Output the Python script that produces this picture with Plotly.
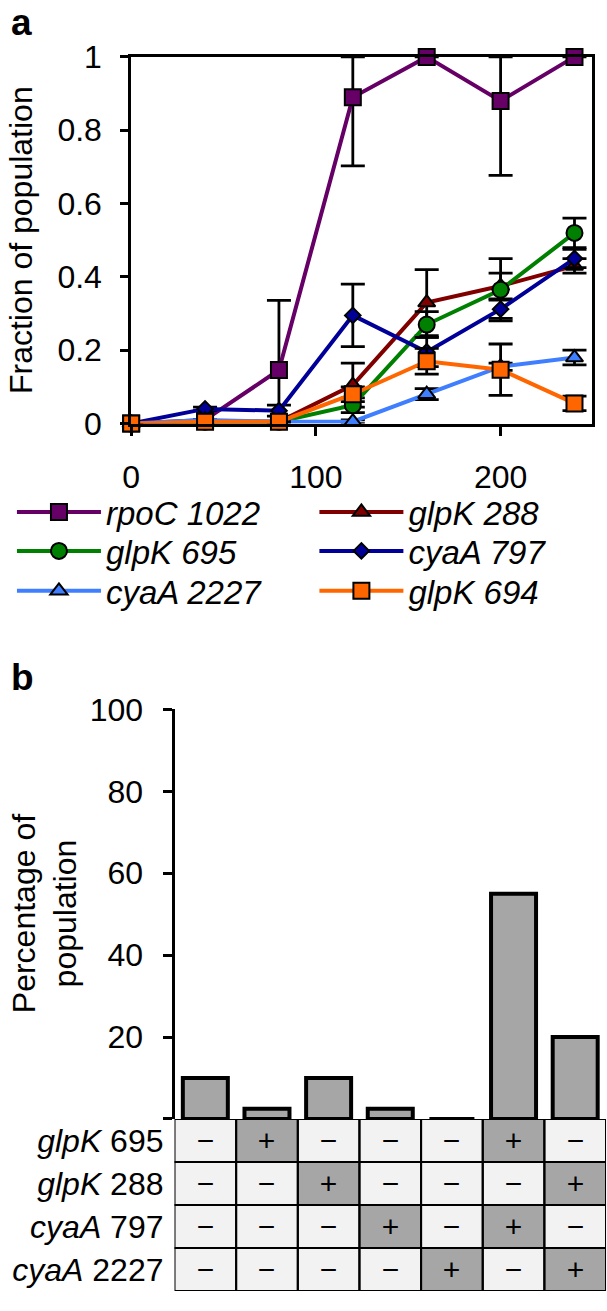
import plotly.graph_objects as go

W, H = 607, 1311
FONT = "Liberation Sans, Arial, sans-serif"

# ---------------- data: panel a ----------------
time_min = [0, 40, 80, 120, 160, 200, 240]
series_names = ["rpoC 1022", "glpK 288", "glpK 695", "cyaA 797", "cyaA 2227", "glpK 694"]
rpoC_1022 = [0, 0.01, 0.146, 0.89, 1.0, 0.88, 1.0]
rpoC_1022_err_plus = [0, 0, 0.19, 0.11, 0, 0.12, 0]
rpoC_1022_err_minus = [0, 0, 0.146, 0.187, 0, 0.203, 0]
glpK_288 = [0, 0.005, 0.005, 0.105, 0.33, 0.375, 0.43]
glpK_288_err = [0, 0, 0, 0.06, 0.09, 0.035, 0.02]
glpK_695 = [0, 0.005, 0.005, 0.05, 0.27, 0.365, 0.52]
glpK_695_err = [0, 0, 0, 0.02, 0.035, 0.085, 0.04]
cyaA_797 = [0, 0.04, 0.035, 0.295, 0.195, 0.312, 0.45]
cyaA_797_err = [0, 0.005, 0.015, 0.085, 0.04, 0.025, 0.025]
cyaA_2227 = [0, 0.01, 0.005, 0.005, 0.08, 0.155, 0.18]
cyaA_2227_err = [0, 0, 0, 0.005, 0.015, 0.01, 0.02]
glpK_694 = [0, 0.005, 0.005, 0.08, 0.17, 0.147, 0.055]
glpK_694_err = [0, 0, 0, 0.02, 0.035, 0.07, 0.02]
x_ticks_a = [0, 100, 200]
y_ticks_a = [0, 0.2, 0.4, 0.6, 0.8, 1]
y_ticktext_a = ["0", "0.2", "0.4", "0.6", "0.8", "1"]

# ---------------- data: panel b ----------------
combo_index = [0, 1, 2, 3, 4, 5, 6]
percentage = [10, 2.5, 10, 2.5, 0, 55, 20]
table_rows = ["glpK|695", "glpK|288", "cyaA|797", "cyaA|2227"]
table_signs = [
    ["-", "+", "-", "-", "-", "+", "-"],
    ["-", "-", "+", "-", "-", "-", "+"],
    ["-", "-", "-", "+", "-", "+", "-"],
    ["-", "-", "-", "-", "+", "-", "+"],
]
y_ticks_b = [0, 20, 40, 60, 80, 100]
y_ticktext_b = ["", "20", "40", "60", "80", "100"]

def px_x(p):
    return p / W

def px_y(p):
    return 1 - p / H

fig = go.Figure()

styles = {
    "rpoC 1022": dict(color="#660066", symbol="square", size=16),
    "glpK 288": dict(color="#800000", symbol="triangle-up", size=15),
    "glpK 695": dict(color="#008000", symbol="circle", size=16),
    "cyaA 797": dict(color="#000099", symbol="diamond", size=12),
    "cyaA 2227": dict(color="#3F7FFF", symbol="triangle-up", size=15),
    "glpK 694": dict(color="#FF6600", symbol="square", size=16),
}
# legend slot: (column x px, row centre y px)
legend_slots = {
    "rpoC 1022": (3, 508), "glpK 288": (310, 508),
    "glpK 695": (3, 548), "cyaA 797": (310, 548),
    "cyaA 2227": (3, 589), "glpK 694": (310, 589),
}
values = {
    "rpoC 1022": (rpoC_1022, rpoC_1022_err_plus, rpoC_1022_err_minus),
    "glpK 288": (glpK_288, glpK_288_err, glpK_288_err),
    "glpK 695": (glpK_695, glpK_695_err, glpK_695_err),
    "cyaA 797": (cyaA_797, cyaA_797_err, cyaA_797_err),
    "cyaA 2227": (cyaA_2227, cyaA_2227_err, cyaA_2227_err),
    "glpK 694": (glpK_694, glpK_694_err, glpK_694_err),
}
legend_layout = {}
for k, name in enumerate(series_names):
    st = styles[name]
    yv, ep, em = values[name]
    lg = "legend" if k == 0 else f"legend{k + 1}"
    lx, ly = legend_slots[name]
    legend_layout[lg] = dict(
        x=px_x(lx), y=px_y(ly), xanchor="left", yanchor="middle", itemwidth=84,
        font=dict(family=FONT, size=33, color="black", style="italic"),
        bgcolor="rgba(0,0,0,0)", borderwidth=0)
    fig.add_trace(go.Scatter(
        x=time_min, y=yv, name=name, mode="lines+markers", legend=lg,
        line=dict(color=st["color"], width=4),
        marker=dict(symbol=st["symbol"], size=st["size"], color=st["color"],
                    line=dict(color="black", width=2)),
        error_y=dict(type="data", symmetric=False, array=ep, arrayminus=em,
                     color="black", thickness=2.8, width=12),
        cliponaxis=False, xaxis="x", yaxis="y", hoverinfo="skip",
    ))

# bars
fig.add_trace(go.Bar(
    x=combo_index, y=percentage, xaxis="x2", yaxis="y2", width=0.73,
    marker=dict(color="#A6A6A6", line=dict(color="black", width=4)),
    showlegend=False, hoverinfo="skip",
))

# table as heatmap
z = [[1 if s == "+" else 0 for s in row] for row in table_signs]
txt = [["\u2212" if s == "-" else "+" for s in row] for row in table_signs]
fig.add_trace(go.Heatmap(
    z=z, x=combo_index, y=list(range(len(table_rows))), xaxis="x2", yaxis="y3",
    colorscale=[[0, "#F2F2F2"], [1, "#A6A6A6"]], zmin=0, zmax=1, showscale=False,
    text=txt, texttemplate="%{text}", textfont=dict(family=FONT, size=30, color="black"),
    hoverinfo="skip",
))
shapes = []
for i in range(len(table_rows)):
    for j in range(len(combo_index)):
        shapes.append(dict(type="rect", xref="x2", yref="y3",
                           x0=j - 0.5, x1=j + 0.5, y0=i - 0.5, y1=i + 0.5,
                           line=dict(color="black", width=2), fillcolor="rgba(0,0,0,0)",
                           layer="above"))

row_labels = []
for r in table_rows:
    g, n = r.split("|")
    row_labels.append(f"<i>{g}</i> {n}")

axis_common = dict(showgrid=False, zeroline=False, color="black",
                   tickfont=dict(family=FONT, size=32, color="black"))

fig.update_layout(
    width=W, height=H, margin=dict(l=0, r=0, t=0, b=0),
    paper_bgcolor="white", plot_bgcolor="white",
    font=dict(family=FONT, color="black"),
    xaxis=dict(domain=[px_x(124), px_x(592)], range=[0, 249.6], tickvals=x_ticks_a,
               showline=True, linewidth=2.8, linecolor="black", mirror=True,
               ticks="outside", ticklen=10, tickwidth=2.8, anchor="y",
               ticklabelstandoff=13, **axis_common),
    yaxis=dict(domain=[px_y(417), px_y(40)], range=[0, 1], tickvals=y_ticks_a,
               ticktext=y_ticktext_a, showline=True, linewidth=2.8, linecolor="black",
               mirror=True, ticks="outside", ticklen=8, tickwidth=2.8, anchor="x",
               ticklabelstandoff=12, **axis_common),
    xaxis2=dict(domain=[px_x(168), px_x(606)], range=[-0.5, 6.5], visible=False,
                anchor="y2"),
    yaxis2=dict(domain=[px_y(1132), px_y(711)], range=[0, 100], tickvals=y_ticks_b,
                ticktext=y_ticktext_b, showline=True, linewidth=3, linecolor="black",
                ticks="outside", ticklen=9, tickwidth=3, anchor="x2",
                ticklabelstandoff=13, **axis_common),
    yaxis3=dict(domain=[px_y(1309), px_y(1132)], range=[3.5, -0.5],
                tickvals=list(range(len(table_rows))), ticktext=row_labels,
                showline=False, ticks="", ticklabelstandoff=10, anchor="x2",
                showgrid=False, zeroline=False,
                tickfont=dict(family=FONT, size=32, color="black")),
    shapes=shapes,
    annotations=[
        dict(text="<b>a</b>", x=0, y=px_y(-18), xref="paper", yref="paper",
             xanchor="left", yanchor="top", showarrow=False,
             font=dict(family=FONT, size=37, color="black")),
        dict(text="<b>b</b>", x=0, y=px_y(655), xref="paper", yref="paper",
             xanchor="left", yanchor="top", showarrow=False,
             font=dict(family=FONT, size=37, color="black")),
        dict(text="Fraction of population", x=px_x(12), y=px_y(228.5), xref="paper",
             yref="paper", xanchor="center", yanchor="middle", textangle=-90,
             showarrow=False, font=dict(family=FONT, size=32, color="black")),
        dict(text="Percentage of<br>population", x=px_x(36), y=px_y(921), xref="paper",
             yref="paper", xanchor="center", yanchor="middle", textangle=-90,
             showarrow=False, font=dict(family=FONT, size=32, color="black")),
    ],
)
fig.update_layout(**legend_layout)

fig.write_html("out.html", config={"displayModeBar": False},
               post_script="document.body.style.margin='0px';document.body.style.overflow='hidden';")
